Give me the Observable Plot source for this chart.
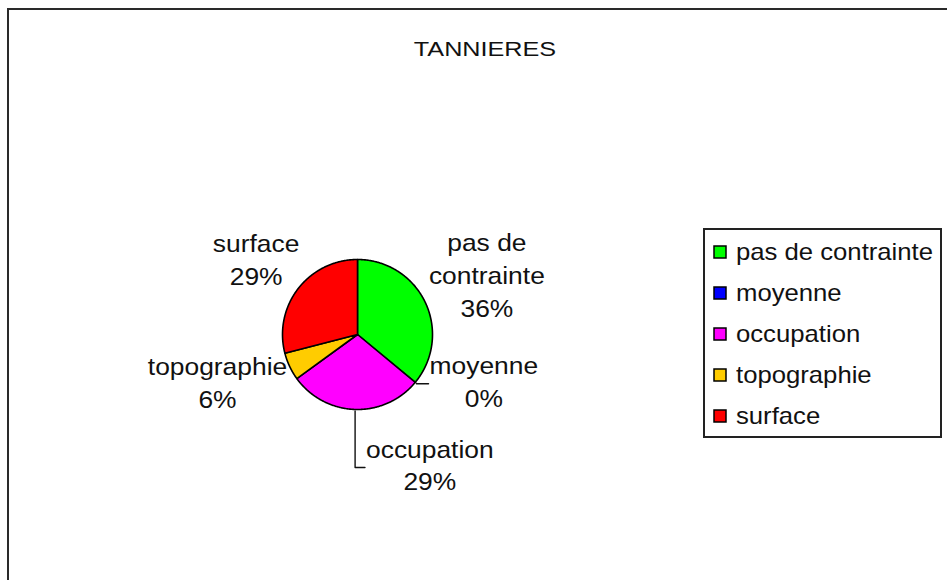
<!DOCTYPE html>
<html>
<head>
<meta charset="utf-8">
<script src="https://cdn.jsdelivr.net/npm/d3@7"></script>
<script src="https://cdn.jsdelivr.net/npm/@observablehq/plot@0.6"></script>
<style>
html, body { margin: 0; padding: 0; background: #fff; overflow: hidden; }
#frame { position: absolute; left: 7px; top: 8px; width: 2000px; height: 2000px;
  border-top: 2px solid #2a2a2a; border-left: 2px solid #2a2a2a; pointer-events: none; }
#title { position: relative; height: 70px; }
#title span { position: absolute; left: 485px; top: 39px; white-space: nowrap;
  font: 20px/20px 'Liberation Sans', Arial, sans-serif; color: #111;
  transform: translateX(-50%) scaleX(1.26); }
#chart svg { display: block; }
#legend { position: absolute; left: 703px; top: 228px; width: 239px; height: 210px;
  border: 2px solid #222; box-sizing: border-box; background: #fff; }
#legend .leg-swatches { margin: 0; padding: 1px 0 0 9px; font: 24px 'Liberation Sans', Arial, sans-serif; color: #111; }
#legend .leg-swatch { display: flex; align-items: center; height: 41px; margin: 0; padding: 0; }
#legend .leg-swatch svg { width: 12px; height: 12px; margin: 0 10px 0 0; overflow: visible; flex-shrink: 0; }
#legend .leg-swatch svg rect { stroke: #000; stroke-width: 1.5px; }
#legend .leg-swatch-label { transform: scaleX(1.07); transform-origin: left center; overflow: visible; }
</style>
</head>
<body>
<div id="frame"></div>
<div id="title"><span></span></div>
<div id="chart"></div>
<div id="legend"></div>
<script>
// ---- data ----
const title = "TANNIERES";
const categories = ["pas de contrainte", "moyenne", "occupation", "topographie", "surface"];
const percents = [36, 0, 29, 6, 29];
const colors = ["#00ff00", "#0000ff", "#ff00ff", "#ffcc00", "#ff0000"];

// ---- layout ----
const W = 947, H = 510, CX = 357, CY = 264, R = 75;
const FONT = "'Liberation Sans', Arial, sans-serif";
const LABEL_PX = 24, LINE_H = 1.375, STRETCH = 1.1, GAP = 10, WRAP = 130;
// hand-placed labels (pixel offsets from their default spot), drawn with leader lines
const moved = {"moyenne": [19, -26], "occupation": [77, 15]};

document.querySelector("#title span").textContent = title;

const total = d3.sum(percents);
let acc = 0;
const slices = categories.map((c, i) => {
  const a0 = acc / total * 2 * Math.PI;
  acc += percents[i];
  const a1 = acc / total * 2 * Math.PI;
  return {cat: c, value: percents[i], a0, a1};
});

// slice outlines (unit circle, clockwise from 12 o'clock)
const pts = [];
for (const s of slices) {
  if (s.value <= 0) continue;
  pts.push({cat: s.cat, x: 0, y: 0});
  const n = Math.max(2, Math.ceil((s.a1 - s.a0) / (Math.PI / 360)));
  for (let k = 0; k <= n; k++) {
    const a = s.a0 + (s.a1 - s.a0) * k / n;
    pts.push({cat: s.cat, x: Math.sin(a), y: Math.cos(a)});
  }
}

// label placement (Excel-like outside end)
const ctx = document.createElement("canvas").getContext("2d");
ctx.font = `${LABEL_PX}px ${FONT}`;
const tw = t => ctx.measureText(t).width * STRETCH;
function wrap(text) {
  const words = text.split(" "), lines = [];
  let cur = "";
  for (const w of words) {
    const t = cur ? cur + " " + w : w;
    if (cur && tw(t) > WRAP) { lines.push(cur); cur = w; } else cur = t;
  }
  if (cur) lines.push(cur);
  return lines;
}
const leaderPts = [];
const labels = slices.map(s => {
  const lines = [...wrap(s.cat), `${Math.round(s.value / total * 100)}%`];
  const w = d3.max(lines, tw), h = lines.length * LINE_H * LABEL_PX;
  const m = (s.a0 + s.a1) / 2, ux = Math.sin(m), uy = Math.cos(m);
  const k = 1 + GAP / R;
  let lx = ux * k + ux * w / 2 / R, ly = uy * k + uy * h / 2 / R;
  const off = moved[s.cat];
  if (off) {
    lx += off[0] / R; ly -= off[1] / R;
    const sx = lx > ux ? lx - (w / 2 + 1) / R : lx + (w / 2 + 1) / R;
    leaderPts.push({cat: s.cat, x: ux * 1.02, y: uy * 1.02}, {cat: s.cat, x: ux * 1.02, y: ly}, {cat: s.cat, x: sx, y: ly});
  }
  return {cat: s.cat, text: lines.join("\n"), x: lx, y: ly};
});

const chart = Plot.plot({
  width: W, height: H, margin: 0,
  x: {domain: [-1, 1], range: [CX - R, CX + R], axis: null},
  y: {domain: [-1, 1], range: [CY + R, CY - R], axis: null},
  color: {domain: categories, range: colors},
  style: {background: "transparent", overflow: "visible", fontFamily: FONT},
  marks: [
    Plot.line(pts, {x: "x", y: "y", z: "cat", fill: "cat", stroke: "#000", strokeWidth: 1.6,
      curve: "linear-closed", strokeLinejoin: "round"}),
    Plot.line(leaderPts, {x: "x", y: "y", z: "cat", stroke: "#111", strokeWidth: 1.4, curve: "linear"}),
    Plot.text(labels, {x: "x", y: "y", text: "text", fontSize: LABEL_PX, lineHeight: LINE_H,
      textAnchor: "middle", lineAnchor: "middle", fill: "#111", dy: -4})
  ]
});
// widen label glyphs slightly, as in the original rendering
chart.querySelectorAll("text").forEach(t => {
  const tr = t.getAttribute("transform");
  if (tr && tr.includes("translate")) {
    t.setAttribute("transform", tr + ` scale(${STRETCH},1)`);
  } else {
    const x = +t.getAttribute("x") || 0, y = +t.getAttribute("y") || 0;
    t.removeAttribute("x"); t.removeAttribute("y");
    t.setAttribute("transform", `translate(${x},${y}) scale(${STRETCH},1)`);
  }
});
document.getElementById("chart").appendChild(chart);

const leg = Plot.legend({color: {domain: categories, range: colors}, legend: "swatches",
  columns: 1, swatchSize: 12, className: "leg"});
document.getElementById("legend").appendChild(leg);
</script>
</body>
</html>
